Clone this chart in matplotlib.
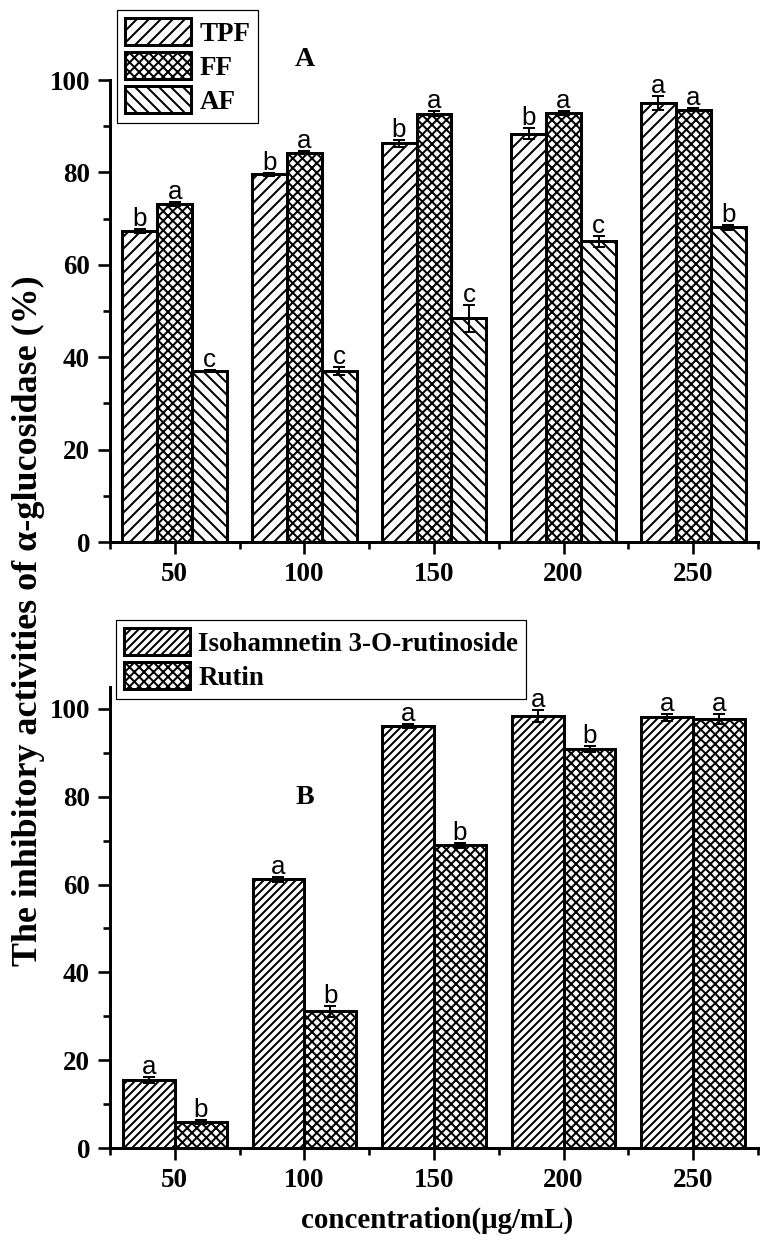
import numpy as np
import matplotlib
matplotlib.use("Agg")
import matplotlib.pyplot as plt
from matplotlib.ticker import MultipleLocator

# ---------------- data ----------------
concentrations = ["50", "100", "150", "200", "250"]

# Panel A
tpf = [67.3, 79.6, 86.3, 88.4, 95.0]
tpf_err = [0.5, 0.3, 0.7, 1.2, 1.6]
tpf_sig = ["b", "b", "b", "b", "a"]
ff = [73.1, 84.3, 92.7, 92.9, 93.6]
ff_err = [0.4, 0.3, 0.6, 0.4, 0.3]
ff_sig = ["a", "a", "a", "a", "a"]
af = [37.0, 37.0, 48.4, 65.1, 68.1]
af_err = [0.3, 0.9, 2.9, 1.2, 0.6]
af_sig = ["c", "c", "c", "c", "b"]

# Panel B
iso = [15.5, 61.2, 96.1, 98.4, 98.1]
iso_err = [0.6, 0.6, 0.4, 1.3, 0.8]
iso_sig = ["a", "a", "a", "a", "a"]
rutin = [5.9, 31.1, 68.9, 90.9, 97.7]
rutin_err = [0.4, 1.3, 0.5, 0.6, 1.2]
rutin_sig = ["b", "b", "b", "b", "a"]

DPI = 144
plt.rcParams['hatch.linewidth'] = 1.0
serif_bold = dict(family="Liberation Serif", weight="bold")

fig = plt.figure(figsize=(776 / DPI, 1250 / DPI), dpi=DPI)
fig.patch.set_facecolor("white")

axA = fig.add_axes([110 / 776, 1 - 542 / 1250, 648 / 776, 462 / 1250])
axB = fig.add_axes([110 / 776, 1 - 1148 / 1250, 648 / 776, 461 / 1250])

x = np.arange(1, len(concentrations) + 1)


def style_axis(ax, ymax):
    for s in ["top", "right"]:
        ax.spines[s].set_visible(False)
    for s in ["left", "bottom"]:
        ax.spines[s].set_linewidth(1.5)
    ax.set_xlim(0.5, 5.5)
    ax.set_ylim(0, ymax)
    ax.set_xticks(x)
    ax.set_xticklabels(concentrations)
    ax.set_xticks(np.arange(0.5, 5.6, 1.0), minor=True)
    ax.yaxis.set_major_locator(MultipleLocator(20))
    ax.yaxis.set_minor_locator(MultipleLocator(10))
    ax.tick_params(axis="both", which="major", length=6, width=1.3,
                   direction="out", pad=4)
    ax.tick_params(axis="both", which="minor", length=3.5, width=1.3,
                   direction="out")
    for lab in ax.get_xticklabels() + ax.get_yticklabels():
        lab.set_fontfamily("Liberation Serif")
        lab.set_fontweight("bold")
        lab.set_fontsize(13.5)


def draw_bars(ax, pos, vals, errs, sigs, width, hatch, label):
    bars = ax.bar(pos, vals, width, color="white", edgecolor="black",
                  linewidth=1.5, hatch=hatch, label=label, zorder=2)
    ax.errorbar(pos, vals, yerr=errs, fmt="none", ecolor="black",
                elinewidth=1.0, capsize=3, capthick=1.0, zorder=3)
    for xp, v, e, s in zip(pos, vals, errs, sigs):
        ax.annotate(s, (xp, v + e), xytext=(0, 1.5), textcoords="offset points",
                    ha="center", va="baseline", fontsize=13,
                    family="Liberation Sans", zorder=4, annotation_clip=False)
    return bars


leg_kw = dict(prop=dict(family="Liberation Serif", weight="bold", size=13.5),
              handlelength=2.45, handleheight=1.15, labelspacing=0.2,
              handletextpad=0.3, borderpad=0.3, borderaxespad=0,
              fancybox=False, edgecolor="black", framealpha=1)

# Panel A
wA = 0.27
draw_bars(axA, x - wA, tpf, tpf_err, tpf_sig, wA, "////", "TPF")
draw_bars(axA, x, ff, ff_err, ff_sig, wA, "xxxxx", "FF")
draw_bars(axA, x + wA, af, af_err, af_sig, wA, "\\\\\\\\", "AF")
style_axis(axA, 100)
legA = axA.legend(loc="upper left", bbox_to_anchor=(7 / 648, 1 + 70 / 462),
                  **leg_kw)
legA.get_frame().set_linewidth(0.6)
axA.text(305 / 776, 1 - 60 / 1250, "A", transform=fig.transFigure,
         ha="center", va="center", fontsize=14, **serif_bold)

# Panel B
wB = 0.4
draw_bars(axB, x - 0.2, iso, iso_err, iso_sig, wB, "//////",
          "Isohamnetin 3-O-rutinoside")
draw_bars(axB, x + 0.2, rutin, rutin_err, rutin_sig, wB, "xxxxx", "Rutin")
style_axis(axB, 105)
legB = axB.legend(loc="upper left", bbox_to_anchor=(6 / 648, 1 + 67 / 461),
                  **leg_kw)
legB.get_frame().set_linewidth(0.6)
axB.text(305 / 776, 1 - 797 / 1250, "B", transform=fig.transFigure,
         ha="center", va="center", fontsize=14, **serif_bold)

fig.text(28 / 776, 1 - 621 / 1250,
         "The inhibitory activities of α-glucosidase (%)",
         rotation=90, ha="center", va="center", fontsize=18, **serif_bold)
fig.text(437 / 776, 1 - 1220 / 1250, "concentration(μg/mL)",
         ha="center", va="center", fontsize=14.5, **serif_bold)

fig.savefig("out.png", dpi=DPI, facecolor="white")
